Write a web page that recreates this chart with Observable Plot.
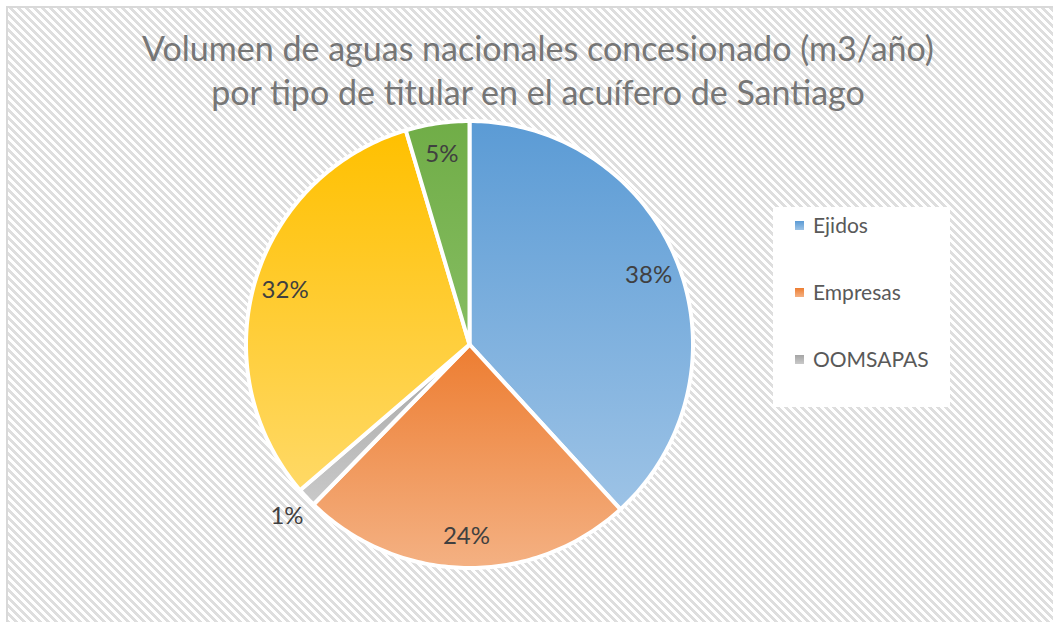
<!DOCTYPE html>
<html><head><meta charset="utf-8">
<script src="https://cdn.jsdelivr.net/npm/d3@7"></script>
<script src="https://cdn.jsdelivr.net/npm/@observablehq/plot@0.6"></script>
<style>
html,body{margin:0;padding:0;background:#fff;width:1053px;height:622px;overflow:hidden;font-family:Lato,sans-serif}
#frame{position:absolute;left:6px;top:6px;width:1100px;height:700px;border-left:2px solid #d9d9d9;border-top:2px solid #d9d9d9;background:repeating-linear-gradient(45deg,#fff 0 2.8px,#dedede 2.8px 5.66px)}
#chart{position:absolute;left:0;top:0}
.title{position:absolute;left:0;width:1076px;text-align:center;color:#767676;white-space:nowrap;line-height:44px}
#legend{position:absolute;left:773px;top:207px;width:177px;height:200px;background:#fff}
.item{position:absolute;left:0;height:20px;line-height:20px;font-size:21px;color:#595959;white-space:nowrap}
.sw{position:absolute;left:22px;top:5.5px;width:9px;height:9px}
.lab{position:absolute;left:40px;top:0}
</style>
</head><body>
<div id="frame"></div>
<div id="titles"></div>
<div id="legend"></div>
<div id="chart"></div>
<script>
const categories = ["Ejidos", "Empresas", "OOMSAPAS", "Particulares", "Otros"];
const values = [38.2, 24.1, 1.4, 31.7, 4.6];
const legendCategories = ["Ejidos", "Empresas", "OOMSAPAS"];
const topColors = ["#5B9BD5", "#ED7D31", "#A5A5A5", "#FFC000", "#70AD47"];
const bottomColors = ["#9DC3E6", "#F4B183", "#C9C9C9", "#FFD966", "#86BD62"];
const titleLines = ["Volumen de aguas nacionales concesionado (m3/año)", "por tipo de titular en el acuífero de Santiago"];

const total = d3.sum(values);
const arcs = d3.pie().sort(null).value(d => d)(values);
const slices = arcs.map((a, i) => ({i, name: categories[i], start: a.startAngle, end: a.endAngle, pct: values[i] / total}));
const pts = [];
for (const s of slices) {
  pts.push({i: s.i, x: 0, y: 0});
  const n = Math.max(2, Math.ceil((s.end - s.start) / (Math.PI / 180)));
  for (let k = 0; k <= n; k++) {
    const a = s.start + (s.end - s.start) * k / n;
    pts.push({i: s.i, x: Math.sin(a), y: Math.cos(a)});
  }
}
const labelsData = slices.map(s => {
  const m = (s.start + s.end) / 2;
  const r = s.pct < 0.02 ? 1.12 : 0.86;
  return {x: r * Math.sin(m), y: r * Math.cos(m), text: Math.round(s.pct * 100) + "%"};
});

const plot = Plot.plot({
  width: 1053, height: 622, margin: 0,
  x: {domain: [-1, 1], range: [245.5, 692.5], axis: null},
  y: {domain: [-1, 1], range: [567.5, 120.5], axis: null},
  color: {type: "identity"},
  style: {background: "transparent", fontFamily: "Lato, sans-serif"},
  marks: [
    Plot.line(pts, {x: "x", y: "y", z: "i", fill: d => `url(#g${d.i})`, stroke: "#fff", strokeWidth: 4, curve: "linear-closed", strokeLinejoin: "round"}),
    Plot.text(labelsData, {x: "x", y: "y", text: "text", fontSize: 24, fill: "#404040"})
  ]
});
const defs = d3.select(plot).insert("defs", ":first-child");
slices.forEach(s => {
  const g = defs.append("linearGradient").attr("id", "g" + s.i).attr("x1", 0).attr("y1", 0).attr("x2", 0).attr("y2", 1);
  g.append("stop").attr("offset", 0).attr("stop-color", topColors[s.i]);
  g.append("stop").attr("offset", 1).attr("stop-color", bottomColors[s.i]);
});
document.getElementById("chart").appendChild(plot);

// title
const ctx = document.createElement("canvas").getContext("2d");
ctx.font = "100px Lato";
const fs = 100 * 792 / ctx.measureText(titleLines[0]).width;
const top0 = 61 - 22 - 0.387 * fs;
const titles = document.getElementById("titles");
titleLines.forEach((t, i) => {
  const d = document.createElement("div");
  d.className = "title";
  d.style.fontSize = fs + "px";
  d.style.top = (top0 + 44 * i) + "px";
  d.textContent = t;
  titles.appendChild(d);
});

// legend
const legend = document.getElementById("legend");
legendCategories.forEach((c, i) => {
  const idx = categories.indexOf(c);
  const it = document.createElement("div");
  it.className = "item";
  it.style.top = (8 + 67 * i) + "px";
  const sw = document.createElement("div");
  sw.className = "sw";
  sw.style.background = `linear-gradient(${topColors[idx]}, ${bottomColors[idx]})`;
  const lb = document.createElement("div");
  lb.className = "lab";
  lb.textContent = c;
  it.appendChild(sw); it.appendChild(lb);
  legend.appendChild(it);
});
</script>
</body></html>
